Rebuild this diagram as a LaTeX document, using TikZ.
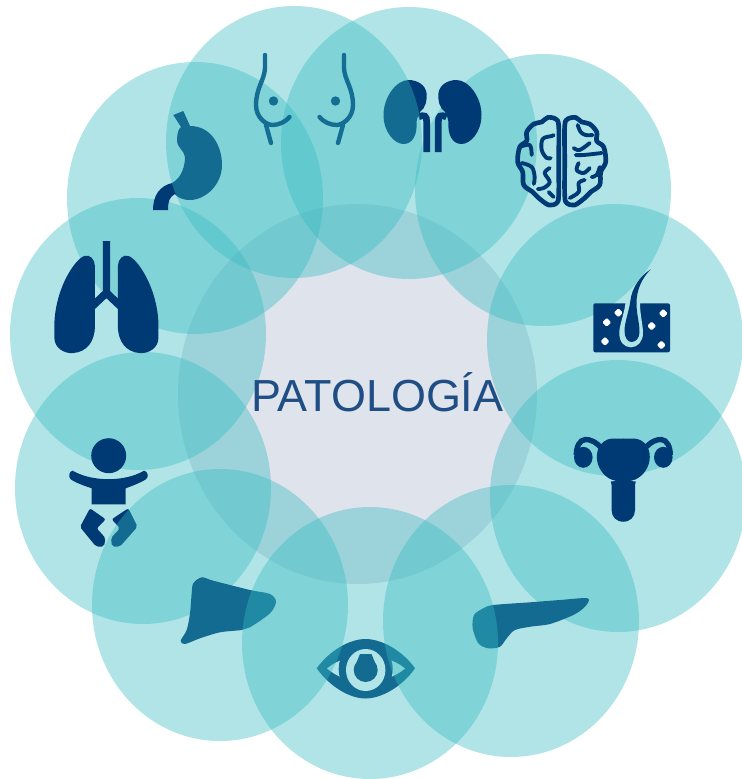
\documentclass[tikz,border=0pt]{standalone}
\usepackage{fontspec}
\setmainfont{Liberation Sans}
\usetikzlibrary{shapes.geometric}
\definecolor{lobeteal}{RGB}{52,186,193}
\definecolor{lobelight}{RGB}{176,228,231}
\definecolor{centregrey}{RGB}{223,227,235}
\definecolor{organblue}{RGB}{0,58,117}
\definecolor{breastblue}{RGB}{20,110,148}
\definecolor{titleblue}{RGB}{31,78,133}

\begin{document}
\begin{tikzpicture}[
  x=0.75pt, y=-0.75pt,
  lobe/.style={ellipse, minimum width=192pt, minimum height=204pt, inner sep=0pt, outer sep=0pt, fill=lobeteal, fill opacity=0.39},
  hub/.style={ellipse, minimum width=269.25pt, minimum height=285pt, inner sep=0pt, outer sep=0pt, fill=centregrey},
  organ/.style={fill=organblue},
  tube/.style={draw=organblue, line width=4pt},
  fold/.style={draw=organblue, line width=3.5pt, line cap=round, line join=round},
  gyrus/.style={draw=organblue, line width=2.9pt, line cap=round, line join=round},
  curve/.style={draw=breastblue, line width=3.3pt, line cap=round, line join=round},
  title/.style={font=\fontsize{33.7}{38}\selectfont, color=titleblue},
]
\useasboundingbox (0,0) rectangle (742,779);

% ─── Centre ───
\node[hub] (centre) at (357.5,394) {};

% ─── Lobes under the organs ───
\node[lobe] (brainlobe) at (543,190) {};
\node[lobe] (skinlobe) at (615,340) {};
\node[lobe] (uteruslobe) at (618,496) {};
\node[lobe] (stomachlobe) at (195,198) {};
\node[lobe] (lungslobe) at (138,334) {};
\node[lobe] (babylobe) at (143,488) {};
\node[lobe] (kidneylobe) at (409,143) {};

% ─── Stomach ───
\fill[organ] (173.3,115) -- (183.3,111) -- (190,126) .. controls (212,126) and (222,147) .. (222,165)
  .. controls (222,185) and (205,200) .. (190,200) .. controls (182,200) and (177,197) .. (175,194)
  .. controls (170,197) and (168,200) .. (168,210) -- (153,210) .. controls (153,195) and (160,186) .. (172,183)
  .. controls (182,178) and (185,165) .. (185,157) .. controls (184,150) and (177,148) .. (177,140)
  .. controls (177,133) and (179,128) .. (181,127) -- cycle;

% ─── Kidneys ───
\foreach \side in {-1,1}{
  \begin{scope}[shift={(432.5,0)}, xscale=\side]
    \fill[organ] (-24,80) .. controls (-36,80) and (-49,97) .. (-49,115) .. controls (-49,132) and (-38,144) .. (-29,144)
      .. controls (-20,144) and (-15,135) .. (-16,122) .. controls (-15,117) and (-14,114) .. (-12.5,112)
      .. controls (-7,108) and (-5,100) .. (-6,93) .. controls (-7,85) and (-15,80) .. (-24,80) -- cycle;
    \draw[draw=organblue, line width=5pt] (-14,117) .. controls (-8,114) and (-5.8,116) .. (-5.8,122) -- (-5.8,152);
  \end{scope}
}

% ─── Baby ───
\fill[organ] (108.7,455.7) circle[radius=17.5];
\fill[organ] (72.7,470.7) .. controls (92,482) and (125,482) .. (144,470.7) .. controls (148,471) and (149,477) .. (146,479.3)
  .. controls (140,483) and (132,486) .. (125.7,488.3) -- (125.7,504.3) -- (91.7,504.3) -- (91.7,488.3)
  .. controls (85,486) and (76,483) .. (70.7,479.3) .. controls (68,477) and (69,471) .. (72.7,470.7) -- cycle;
\fill[organ, rounded corners=1.5pt] (90,508.3) -- (105.7,519.3) -- (96.7,528.3) -- (105.5,538) -- (104,546.5) -- (96,546.5) -- (80,527) -- cycle;
\fill[organ, rounded corners=1.5pt] (128.3,508.3) -- (137.5,526.7) -- (120,546.5) -- (112,546.5) -- (111,538) -- (120,528.3) -- (111.7,519.3) -- cycle;

% ─── Liver ───
\fill[organ] plot[smooth cycle, tension=0.5] coordinates {(193.3,583.3) (201.7,577.3) (213.3,580.7) (250,590) (270,594) (276,601.7) (270,613.3) (250,627.3) (241.7,630) (220,632.3) (200,638.3) (185,644) (180.7,640.7) (186.7,630) (190,613.3) (191.7,593.3)};

% ─── Eye ───
\fill[organ] (316.7,668.3) .. controls (330,650) and (350,639) .. (365.5,639) .. controls (381,639) and (402,650) .. (415,668.3)
  .. controls (402,687) and (381,698.5) .. (365.5,698.5) .. controls (350,698.5) and (330,687) .. (316.7,668.3) -- cycle;
\fill[white] (327,668.5) .. controls (337,660) and (350,656) .. (365.5,656) .. controls (381,656) and (395,660) .. (405,668.5)
  .. controls (395,677) and (381,682) .. (365.5,682) .. controls (350,682) and (337,677) .. (327,668.5) -- cycle;
\fill[organ] (365.7,669) circle[x radius=27, y radius=29];
\fill[white] (365.7,670) circle[x radius=19.7, y radius=21];
\fill[organ] (365.7,670) circle[radius=12];
\fill[organ] (360,654) -- (371.5,654) -- (377.2,668) -- (354.2,668) -- cycle;

% ─── Pancreas ───
\fill[organ] plot[smooth cycle, tension=0.5] coordinates {(587.7,598.3) (585,606.7) (573.3,615) (550,624) (531.7,626.5) (515,630) (506.7,638.3) (500,646.7) (488.3,648.3) (478.3,643.3) (472.7,628.3) (474,615) (483.3,608.3) (493.3,605) (530,602.3) (560,600)};

% ─── Lobes over the organs ───
\node[lobe] (breastlobe) at (294,142) {};
\node[lobe] (liverlobe) at (220,605) {};
\node[lobe] (eyelobe) at (370,643) {};
\node[lobe] (pancreaslobe) at (511,621) {};

% ─── Lungs ───
\foreach \side in {-1,1}{
  \begin{scope}[shift={(106.4,0)}, xscale=\side]
    \fill[organ] (0.2,241) -- (-3.6,241) -- (-3.6,291) -- (-11.5,298.5) -- (-11.5,266) .. controls (-11.5,259) and (-17,254) .. (-22,256)
      .. controls (-30,258) and (-50,285) .. (-52,322) -- (-52,338) .. controls (-52,348) and (-42,354) .. (-33,353)
      .. controls (-20,352) and (-11.5,342) .. (-11.5,326) -- (-11.5,309) -- (0.2,298) -- cycle;
  \end{scope}
}

% ─── Breasts ───
\foreach \side in {-1,1}{
  \begin{scope}[shift={(304.5,0)}, xscale=\side]
    \draw[curve] (-39.5,55) -- (-39.5,68) .. controls (-40,80) and (-48.5,88) .. (-48.5,105)
      .. controls (-48.5,118) and (-38,125) .. (-32,125) .. controls (-26,125) and (-19,122) .. (-15,117);
    \draw[curve] (-38.5,125) -- (-33.5,143);
    \fill[breastblue] (-31,101) circle[radius=4.7];
  \end{scope}
}

% ─── Brain ───
\foreach \side in {-1,1}{
  \begin{scope}[shift={(561.7,0)}, xscale=\side]
    \draw[fold] plot[smooth cycle, tension=0.55] coordinates {(-3,126) (-6,119) (-14,117.5) (-20,122) (-28,124) (-35,132) (-35,141) (-42,147) (-44,162) (-39,172) (-38,185) (-29,192) (-23,198) (-13,205) (-5,203) (-3,195) (-3,160)};
  \end{scope}
}
\begin{scope}[shift={(561.7,0)}]
  \draw[gyrus] plot[smooth, tension=0.6] coordinates {(-8,135) (-10,136) (-19,139) (-20,150) (-15,158) (-11,158)};
  \draw[gyrus] plot[smooth, tension=0.6] coordinates {(-42,147) (-32,145) (-30,155)};
  \draw[gyrus] plot[smooth, tension=0.6] coordinates {(-40,163) (-30,167) (-27,177) (-28,184)};
  \draw[gyrus] plot[smooth, tension=0.6] coordinates {(-12,168) (-17,173) (-12,182) (-18,188) (-24,189)};
  \draw[gyrus] plot[smooth, tension=0.6] coordinates {(-13,192) (-8,197)};
  \draw[gyrus] plot[smooth, tension=0.6] coordinates {(16,125) (19,132) (24,135) (31,135)};
  \draw[gyrus] plot[smooth, tension=0.6] coordinates {(12,148) (18,150) (28,143)};
  \draw[gyrus] plot[smooth, tension=0.6] coordinates {(14,155) (22,155) (40,153)};
  \draw[gyrus] plot[smooth, tension=0.6] coordinates {(17,163) (15,170) (22,173) (28,168)};
  \draw[gyrus] plot[smooth, tension=0.6] coordinates {(38,167) (35,175) (30,177)};
  \draw[gyrus] plot[smooth, tension=0.6] coordinates {(8,198) (17,192) (17,183) (23,180)};
\end{scope}

% ─── Skin ───
\fill[organ, rounded corners=1.5pt] (593.3,303.3) rectangle (670,352.3);
\fill[lobelight] (625.5,303) .. controls (624,315) and (619.3,325) .. (619.3,333) .. controls (619.3,342) and (624,347.3) .. (631,347.3)
  .. controls (638,347.3) and (643,341) .. (643,333) .. controls (643,325) and (640,315) .. (640,303) -- cycle;
\fill[organ] (650.7,269.3) .. controls (640,276) and (632,288) .. (630.5,300) .. controls (629,312) and (624.5,322) .. (624.5,331)
  .. controls (624.5,338) and (628,342) .. (631.5,342) .. controls (636,342) and (639.5,338) .. (639.5,332)
  .. controls (639.5,322) and (636.5,315) .. (636.5,303) .. controls (636.5,290) and (642,278) .. (650.7,269.3) -- cycle;
\foreach \px/\py in {618.3/312.7, 606.7/322.3, 605/341.3, 651.7/326, 663.3/313.3, 661.3/345}{
  \fill[white, rounded corners=1pt] (\px,\py) +(-4.5,0) -- +(0,-4.5) -- +(4.5,0) -- +(0,4.5) -- cycle;
}

% ─── Uterus ───
\foreach \side in {-1,1}{
  \begin{scope}[shift={(623.3,0)}, xscale=\side]
    \fill[organ] (0.2,438.5) -- (-10,438.5) .. controls (-20,438.5) and (-26.5,447) .. (-26.5,456.7) .. controls (-26.5,467) and (-20,476) .. (-12,479.5)
      -- (-7,481) -- (-12.5,481.5) -- (-11.7,485) -- (-11.7,510) .. controls (-11.7,517) and (-7,521.7) .. (0.2,521.7) -- cycle;
    \draw[tube] (-20,450) .. controls (-28,441) and (-33,439.5) .. (-38,439.5) .. controls (-44,440) and (-47,447) .. (-47,455);
    \fill[organ] (-40,457.3) circle[x radius=9.3, y radius=10.5];
  \end{scope}
}

% ─── Title ───
\node[title, anchor=base, inner sep=0pt] (patologia) at (377.3,411.7) {PATOLOGÍA};

\end{tikzpicture}
\end{document}
